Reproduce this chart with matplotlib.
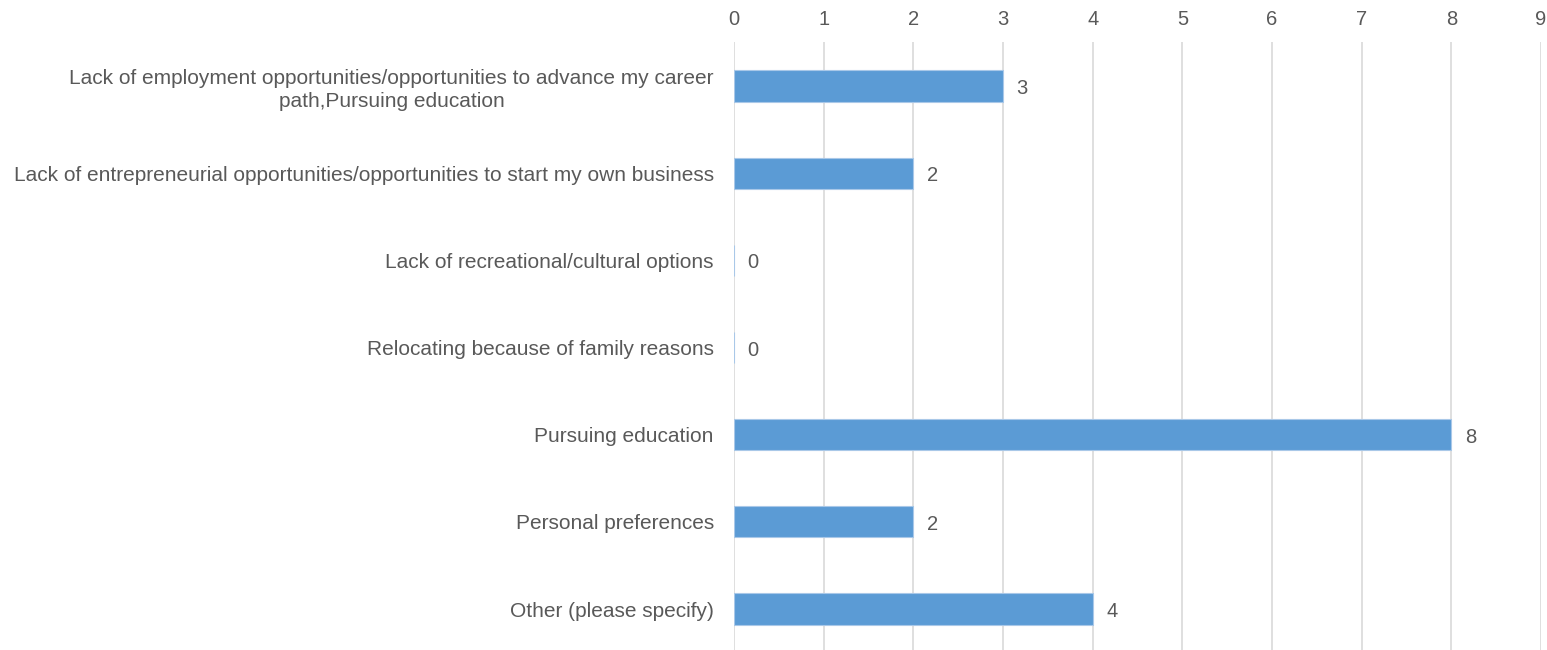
import matplotlib.pyplot as plt

plt.rcParams['font.family'] = ['Liberation Sans', 'DejaVu Sans']

# datos
categorias = [
    'Lack of employment opportunities/opportunities to advance my career\npath,Pursuing education',
    'Lack of entrepreneurial opportunities/opportunities to start my own business',
    'Lack of recreational/cultural options',
    'Relocating because of family reasons',
    'Pursuing education',
    'Personal preferences',
    'Other (please specify)',
]
valores = [3, 2, 0, 0, 8, 2, 4]
ticks_x = list(range(0, 10))

gris = '#595959'

fig = plt.figure(figsize=(15.47, 6.5), dpi=100)
ax = fig.add_axes([734 / 1547, 1 - 652.6 / 650, 807 / 1547, 610.2 / 650])

pos = list(range(len(categorias)))
ax.barh(pos, valores, height=0.356, color='#5B9BD5', edgecolor='#A9C8E8', linewidth=0.8, zorder=3)

for y, v in zip(pos, valores):
    ax.text(v + 0.15, y + 0.03, str(v), va='center', ha='left', fontsize=14.5, color=gris)

ax.set_xlim(0, 9)
ax.set_ylim(len(categorias) - 0.5, -0.5)
ax.set_xticks(ticks_x)
ax.xaxis.tick_top()
ax.tick_params(axis='x', length=0, pad=9.5, labelsize=14.5, labelcolor=gris)
ax.set_yticks(pos)
ax.set_yticklabels(categorias, fontsize=15.05, color=gris, linespacing=1.3)
ax.tick_params(axis='y', length=0, pad=14.5)
# etiquetas de dos lineas centradas
for lbl in ax.get_yticklabels():
    lbl.set_multialignment('center')

ax.grid(axis='x', color='#D9D9D9', linewidth=1.2, zorder=0)
for s in ax.spines.values():
    s.set_visible(False)

fig.savefig('out.png', dpi=100)
